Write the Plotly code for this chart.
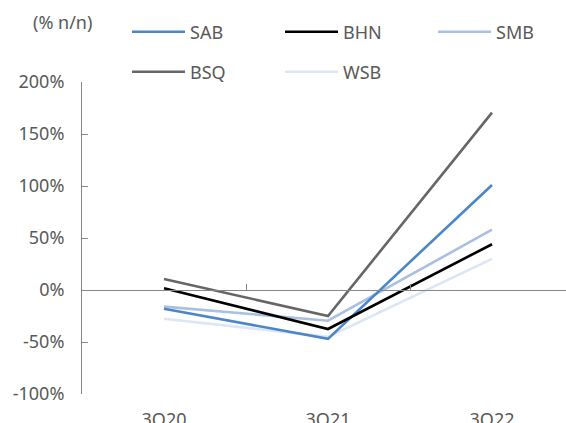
import plotly.graph_objects as go

categories = ["3Q20", "3Q21", "3Q22"]
sab = [-18, -47, 101]
bhn = [1.6, -37.5, 44]
smb = [-16, -29.5, 58]
bsq = [10.6, -25, 170.5]
wsb = [-27.6, -45, 30]

names = ["SAB", "BHN", "SMB", "BSQ", "WSB"]
values = [sab, bhn, smb, bsq, wsb]
colors = ["#4a86c8", "#000000", "#a9c0e3", "#666666", "#dce6f4"]

FONT = "Noto Sans"
TXT = "#595959"
W, H = 566, 423
L, T, B, R = 82, 82, 29, 0
pw = W - L - R
ph = H - T - B

# legend text start (px) and row centre (px)
leg_pos = [(190, 32), (343, 32), (496, 32), (190, 72), (343, 72)]
ITEMW = 53

fig = go.Figure()
order = [4, 2, 0, 3, 1]
for i in order:
    lg = "legend" if i == 0 else "legend%d" % (i + 1)
    fig.add_trace(go.Scatter(
        x=categories, y=values[i], mode="lines", name=names[i],
        line=dict(color=colors[i], width=2.6), legend=lg,
    ))

fig.add_trace(go.Scatter(x=categories, y=[None] * 3, xaxis="x2",
                         showlegend=False, hoverinfo="skip"))

x_end = -0.5 + pw / 164.0

legends = {}
for i, (tx, ty) in enumerate(leg_pos):
    key = "legend" if i == 0 else "legend%d" % (i + 1)
    legends[key] = dict(
        orientation="h", x=(tx - 10 - ITEMW - L) / pw, xanchor="left",
        y=1 + (T - ty) / ph, yanchor="middle",
        itemwidth=ITEMW,
        font=dict(size=18, color=TXT, family=FONT),
        bgcolor="rgba(0,0,0,0)",
    )

fig.update_layout(
    width=W, height=H,
    margin=dict(l=L, r=R, t=T, b=B, autoexpand=False),
    paper_bgcolor="white", plot_bgcolor="white",
    font=dict(family=FONT, size=18, color=TXT),
    hovermode=False,
    xaxis=dict(type="category", range=[-0.5, x_end], showline=False,
               showgrid=False, zeroline=False, ticks="", automargin=False,
               ticklabelstandoff=13,
               tickfont=dict(size=18, color=TXT)),
    xaxis2=dict(type="category", overlaying="x", matches="x",
                anchor="free", position=1 / 3, side="bottom",
                automargin=False,
                showline=True, linecolor="#868686", linewidth=1,
                ticks="inside", ticklen=6, tickcolor="#868686",
                tickmode="array", tickvals=[0.5, 1.5],
                showticklabels=False, showgrid=False, zeroline=False),
    yaxis=dict(range=[-100, 200], tickvals=[-100, -50, 0, 50, 100, 150, 200],
               ticktext=["-100%", "-50%", "0%", "50%", "100%", "150%", "200%"],
               showline=True, linecolor="#868686", linewidth=1,
               ticks="inside", ticklen=6, tickcolor="#868686", automargin=False,
               showgrid=False, zeroline=False, ticklabelstandoff=13,
               tickfont=dict(size=18, color=TXT)),
    annotations=[dict(text="(% n/n)", xref="paper", yref="paper",
                      x=(62 - L) / pw, y=1 + (T - 22) / ph,
                      xanchor="center", yanchor="middle", showarrow=False,
                      font=dict(size=18, color=TXT))],
    showlegend=True,
    **legends,
)

fig.write_html("out.html", config={"displayModeBar": False},
               post_script="document.body.style.margin='0';"
                           "document.body.style.overflow='hidden';")
